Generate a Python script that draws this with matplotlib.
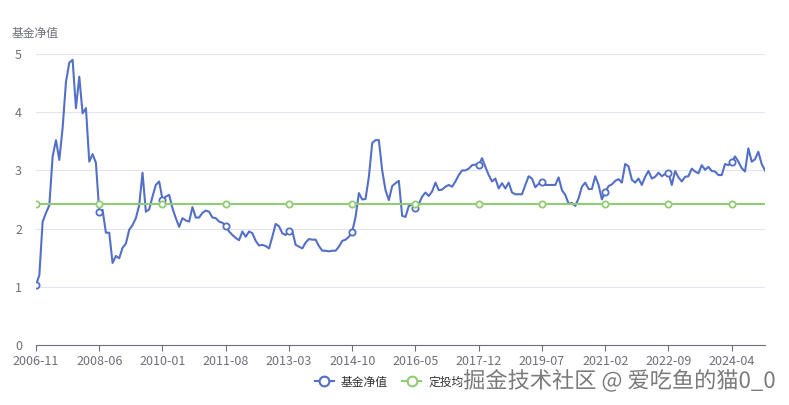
"""
Fund NAV vs. average cost of a monthly investment plan (定投), ECharts-like style.
"""
import pandas as pd
import matplotlib.pyplot as plt
import matplotlib.patheffects as pe
from matplotlib.lines import Line2D

plt.rcParams['font.family'] = ['Noto Sans CJK SC', 'DejaVu Sans']

# monthly dates, 2006-11 .. 2025-02
dates = [p.strftime('%Y-%m') for p in pd.period_range('2006-11', '2025-02', freq='M')]

nav = [
    1.03, 1.20, 2.12, 2.27, 2.40, 3.24, 3.52, 3.18, 3.73, 4.52,
    4.85, 4.90, 4.07, 4.61, 3.98, 4.07, 3.15, 3.28, 3.13, 2.29,
    2.32, 1.93, 1.93, 1.41, 1.53, 1.49, 1.67, 1.74, 1.98, 2.06,
    2.18, 2.40, 2.96, 2.29, 2.33, 2.55, 2.75, 2.81, 2.50, 2.55,
    2.58, 2.35, 2.18, 2.03, 2.18, 2.14, 2.12, 2.37, 2.19, 2.19,
    2.27, 2.31, 2.29, 2.19, 2.18, 2.12, 2.10, 2.05, 1.95, 1.89,
    1.84, 1.80, 1.95, 1.86, 1.95, 1.92, 1.79, 1.71, 1.72, 1.70,
    1.66, 1.86, 2.08, 2.04, 1.92, 1.89, 1.96, 1.96, 1.72, 1.69,
    1.66, 1.76, 1.82, 1.81, 1.81, 1.70, 1.62, 1.62, 1.61, 1.62,
    1.62, 1.69, 1.79, 1.81, 1.86, 1.95, 2.20, 2.61, 2.50, 2.51,
    2.89, 3.47, 3.52, 3.52, 3.00, 2.66, 2.49, 2.73, 2.78, 2.82,
    2.22, 2.20, 2.39, 2.41, 2.35, 2.42, 2.55, 2.62, 2.56, 2.64,
    2.79, 2.66, 2.67, 2.72, 2.75, 2.72, 2.81, 2.92, 3.00, 3.00,
    3.03, 3.09, 3.10, 3.09, 3.21, 3.06, 2.92, 2.81, 2.86, 2.69,
    2.78, 2.69, 2.79, 2.62, 2.59, 2.59, 2.59, 2.75, 2.90, 2.86,
    2.71, 2.77, 2.80, 2.75, 2.75, 2.75, 2.75, 2.88, 2.66, 2.58,
    2.43, 2.44, 2.39, 2.52, 2.72, 2.79, 2.68, 2.68, 2.90, 2.75,
    2.50, 2.63, 2.73, 2.76, 2.82, 2.85, 2.79, 3.11, 3.07, 2.84,
    2.79, 2.86, 2.75, 2.89, 2.99, 2.86, 2.89, 2.96, 2.90, 2.94,
    2.96, 2.75, 2.99, 2.88, 2.81, 2.89, 2.90, 3.03, 2.98, 2.95,
    3.09, 3.01, 3.06, 2.99, 2.98, 2.92, 2.92, 3.11, 3.09, 3.15,
    3.24, 3.15, 3.04, 2.98, 3.38, 3.15, 3.19, 3.32, 3.11, 3.00,
]
avg_cost = [2.43] * len(dates)

BLUE = '#5470c6'
GREEN = '#91cc75'
AXIS = '#6e7079'
GRID = '#e0e6f1'

label_step = 19
x = list(range(len(dates)))

fig = plt.figure(figsize=(7.89, 4.05), dpi=100)
ax = fig.add_axes([36 / 789, 1 - 345 / 405, (765 - 36) / 789, (345 - 54) / 405])

for series, color in [(nav, BLUE), (avg_cost, GREEN)]:
    ax.plot(x, series, color=color, lw=1.5, zorder=3)
    ax.plot(x[::label_step], series[::label_step], 'o', ls='none', ms=4.5,
            mfc='white', mec=color, mew=1.3, zorder=4)

ax.set_xlim(0, len(dates) - 1)
ax.set_ylim(0, 5)
ax.set_yticks(range(6))
ax.set_xticks(x[::label_step])
ax.set_xticklabels(dates[::label_step])

ax.grid(axis='y', color=GRID, lw=0.8, zorder=0)
for s in ['top', 'right', 'left']:
    ax.spines[s].set_visible(False)
ax.spines['bottom'].set_color(AXIS)
ax.spines['bottom'].set_zorder(5)
ax.tick_params(axis='y', length=0, pad=10, labelsize=9, labelcolor=AXIS)
ax.tick_params(axis='x', length=4, color=AXIS, pad=3, labelsize=9, labelcolor=AXIS)

fig.text(12 / 789, 1 - 33 / 405, '基金净值', fontsize=8.5, color=AXIS, va='center')

handles = [
    Line2D([0], [0], color=BLUE, lw=1.5, marker='o', ms=7, mfc='white', mec=BLUE, mew=1.5),
    Line2D([0], [0], color=GREEN, lw=1.5, marker='o', ms=7, mfc='white', mec=GREEN, mew=1.5),
]
fig.legend(handles, ['基金净值', '定投均价'], ncol=2, loc='center',
           bbox_to_anchor=(395 / 789, 1 - 382 / 405), frameon=False,
           fontsize=8.5, handlelength=1.6, columnspacing=1.2, handletextpad=0.6,
           labelcolor='#333333')

# watermark
fig.text(776 / 789, 1 - 381 / 405, '掘金技术社区 @ 爱吃鱼的猫0_0', fontsize=16,
         color='#7a7a7a', ha='right', va='center', zorder=10,
         path_effects=[pe.withStroke(linewidth=2.5, foreground='white')])

fig.savefig('out.png', dpi=100)
